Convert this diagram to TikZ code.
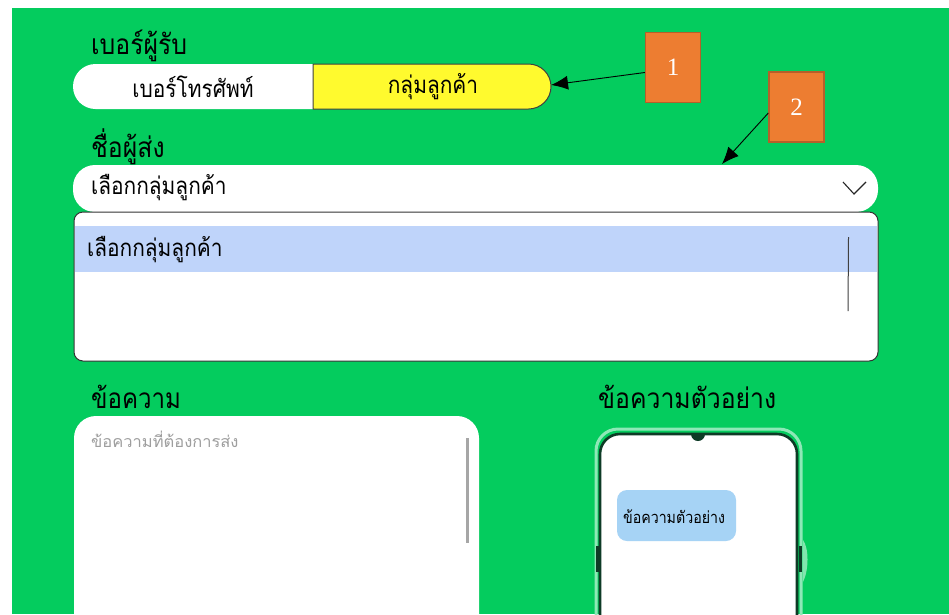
\documentclass[tikz,border=0pt]{standalone}
\usepackage{fontspec}
\newfontfamily\thaifont[Script=Thai]{Loma}
\setmainfont{Liberation Serif}
\usetikzlibrary{arrows.meta}
\definecolor{bggreen}{HTML}{04CC5E}
\definecolor{hl}{HTML}{BFD4FA}
\definecolor{bubble}{HTML}{A6D3F5}
\definecolor{orangeb}{HTML}{ED7D31}
\definecolor{orangeline}{HTML}{B5602A}
\definecolor{dark}{HTML}{0E3B26}
\definecolor{yel}{HTML}{FFFA2E}
\tikzset{
 x=1pt,y=-1pt,
 head/.style={font=\thaifont\fontsize{28}{28}\selectfont,anchor=west,inner sep=0pt,text=black,xscale=.885},
 body/.style={font=\thaifont\fontsize{24}{24}\selectfont,inner sep=0pt,text=black,xscale=.87},
 callout/.style={draw=orangeline,line width=1.4pt,fill=orangeb,text=white,font=\fontsize{25}{25}\selectfont,inner sep=0pt,minimum width=55pt,minimum height=70pt},
 pointer/.style={-{Latex[length=17pt,width=14pt]},line width=.9pt,black},
}
\begin{document}
\begin{tikzpicture}
\useasboundingbox (0,0) rectangle (949,614);
\fill[white] (0,0) rectangle (949,614);
\fill[bggreen] (12,8) rectangle (949,614);

% recipient toggle
\node[head] (lblrecv) at (91,46) {เบอร์ผู้รับ};
\fill[white] (313,64) -- (95.5,64) arc[start angle=270,end angle=90,radius=22.5] -- (313,109) -- cycle;
\node[body] (tabphone) at (193,87) {เบอร์โทรศัพท์};
\draw[fill=yel,draw=black!75,line width=1pt] (313,64) -- (528.5,64) arc[start angle=270,end angle=450,radius=22.5] -- (313,109) -- cycle;
\coordinate (tabend) at (551,85);
\node[body] (tabgroup) at (433,87) {กลุ่มลูกค้า};

% sender select
\node[head] (lblsend) at (91,147) {ชื่อผู้ส่ง};
\fill[white,rounded corners=22pt] (73,165) rectangle (878,212);
\coordinate (selecttop) at (722,164);
\node[body,anchor=west] (seltext) at (91,188) {เลือกกลุ่มลูกค้า};
\coordinate (chl) at (843,182);
\coordinate (chm) at (854,194);
\coordinate (chr) at (866,182);
\draw[line width=1.1pt,black!85] (chl) -- (chm) -- (chr);

% list
\draw[fill=white,draw=black!80,line width=1pt,rounded corners=9pt] (74,212) rectangle (878,361);
\fill[hl] (75,226) rectangle (877,272);
\node[body,anchor=west] (listitem) at (87,250) {เลือกกลุ่มลูกค้า};
\draw[line width=1pt,black!75] (848.5,237) -- (848,311);

% message box
\node[head,xscale=.97] (lblmsg) at (91,397) {ข้อความ};
\fill[white,rounded corners=22pt] (74,416) -- (479,416) -- (479,640) -- (74,640) -- cycle;
\node[anchor=west,inner sep=0pt,text=black!38,font=\thaifont\fontsize{16}{16}\selectfont,xscale=1.03] (hint) at (91,439) {ข้อความที่ต้องการส่ง};
\draw[line width=2.2pt,black!35] (467.5,438) -- (467.5,543);

% preview
\node[head] (lblprev) at (598,397) {ข้อความตัวอย่าง};
\draw[draw=white!55!bggreen,line width=3pt,rounded corners=22pt] (596,640) -- (596,429) -- (801,429) -- (801,640);
\fill[white,rounded corners=20pt] (601,640) -- (601,434) -- (797,434) -- (797,640) -- cycle;
\draw[dark,line width=2.6pt,rounded corners=20pt] (600,640) -- (600,434) -- (797,434) -- (797,640);
\fill[dark] (691,434) arc[start angle=180,end angle=0,radius=7] -- cycle;
\fill[white!50!bggreen] (803,540) .. controls (809,548) and (809,570) .. (803,582) -- cycle;
\draw[dark,line width=3pt] (597,546) -- (597,572);
\draw[dark,line width=3pt] (800,546) -- (800,572);
\node[fill=bubble,rounded corners=10pt,minimum width=119pt,minimum height=51pt,inner sep=0pt] (bubble) at (676.5,515.5) {};
\node[font=\thaifont\fontsize{16.5}{16.5}\selectfont,inner sep=0pt,text=black,xscale=.86] (bubbletext) at (674,517) {ข้อความตัวอย่าง};

% callouts
\node[callout] (one) at (673,67.5) {\raisebox{-5pt}{1}};
\node[callout] (two) at (796.5,107) {\raisebox{-5pt}{2}};
\draw[pointer] (one.west) ++(0,5) coordinate (onestart) (onestart) -- (tabend);
\draw[pointer] (two.west) ++(0,6) coordinate (twostart) (twostart) -- (selecttop);
\end{tikzpicture}
\end{document}
